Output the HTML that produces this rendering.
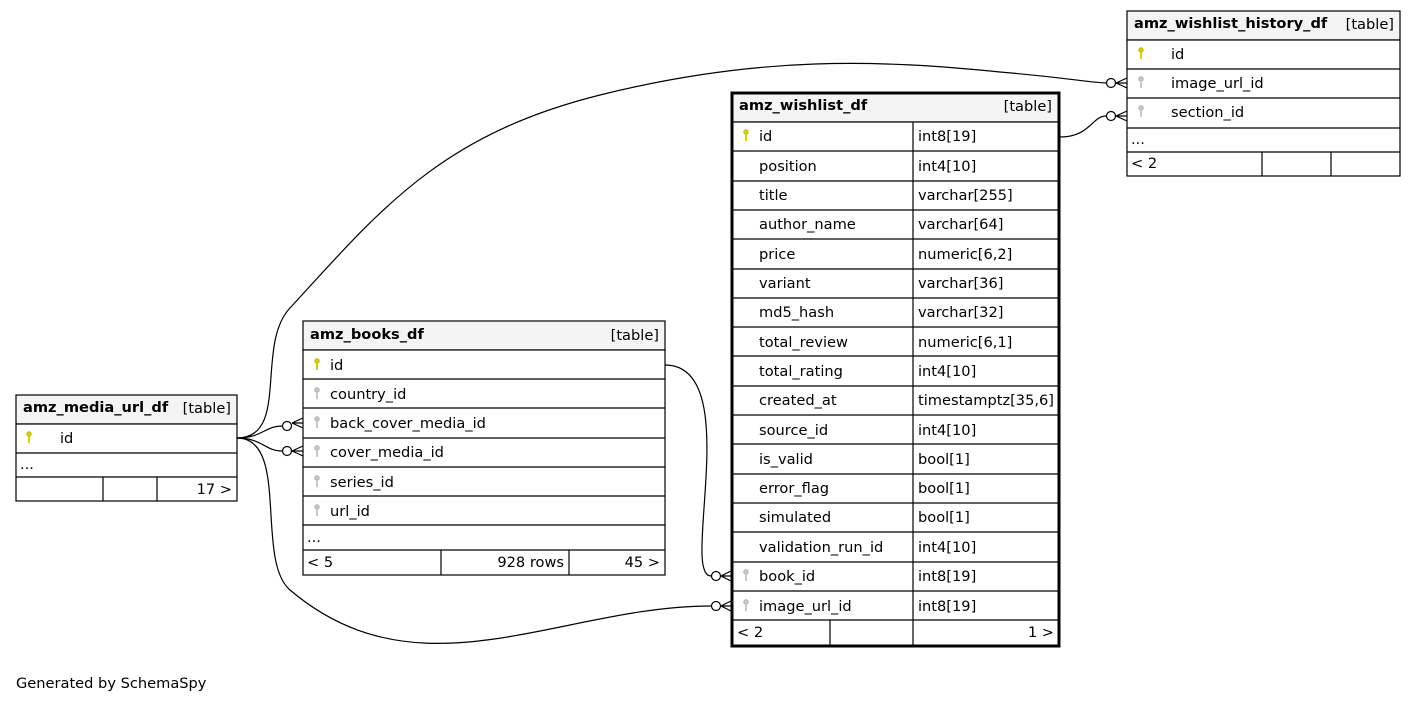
<!DOCTYPE html>
<html><head><meta charset="utf-8"><style>
html,body{margin:0;padding:0;background:#fff;}
svg{display:block;font-family:"DejaVu Sans","Liberation Sans",sans-serif;font-size:14.6px;}
.b{font-weight:bold;}
</style></head><body>
<svg width="1416" height="703" viewBox="0 0 1416 703" xmlns="http://www.w3.org/2000/svg">
<defs>
<g id="kp"><circle cx="0" cy="-3" r="2.3" fill="#d8d000" stroke="#b8b000" stroke-width="0.8"/><line x1="0" y1="-1" x2="0" y2="6" stroke="#d8d000" stroke-width="2"/></g>
<g id="kf"><circle cx="0" cy="-3" r="2.3" fill="#c8c8c8" stroke="#aaa" stroke-width="0.8"/><line x1="0" y1="-1" x2="0" y2="6" stroke="#c8c8c8" stroke-width="2"/></g>
</defs>
<g fill="none" stroke="#000" stroke-width="1.2">
<path d="M237,438 C262,438 265,426 282,426"/>
<path d="M237,438 C262,438 265,451 282,451"/>
<path d="M237,438 C290,438 255,560 290,590 C420,700 560,606 711,606"/>
<path d="M237,438 C290,438 255,345 290,308 C380,210 440,135 600,95 C760,55 880,60 1000,72 C1070,78 1085,82 1106,83"/>
<path d="M665,365 C745,365 680,576 711,576"/>
<path d="M1060,137 C1090,137 1092,116 1106,116"/>
<circle cx="287" cy="426" r="4.5" fill="#fff"/>
<circle cx="287" cy="451" r="4.5" fill="#fff"/>
<circle cx="716" cy="576" r="4.5" fill="#fff"/>
<circle cx="716" cy="606" r="4.5" fill="#fff"/>
<circle cx="1111" cy="83" r="4.5" fill="#fff"/>
<circle cx="1111" cy="116" r="4.5" fill="#fff"/>
<path d="M292,423 L303,418 M292,423 L303,423 M292,423 L303,428"/>
<path d="M292,451 L303,446 M292,451 L303,451 M292,451 L303,456"/>
<path d="M721,576 L731,571 M721,576 L731,576 M721,576 L731,581"/>
<path d="M721,606 L731,601 M721,606 L731,606 M721,606 L731,611"/>
<path d="M1116,83 L1127,78 M1116,83 L1127,83 M1116,83 L1127,88"/>
<path d="M1116,116 L1127,111 M1116,116 L1127,116 M1116,116 L1127,121"/>
</g>

<g stroke="#000" stroke-width="1.2">
<rect x="16" y="395" width="221" height="29" fill="#f4f4f4"/>
<rect x="16" y="424" width="221" height="77" fill="#fff"/>
<line x1="16" y1="453" x2="237" y2="453"/>
<line x1="16" y1="477" x2="237" y2="477"/>
<line x1="103" y1="477" x2="103" y2="501"/>
<line x1="157" y1="477" x2="157" y2="501"/>
</g>
<text x="23" y="412" class="b">amz_media_url_df</text>
<text x="231" y="413" text-anchor="end">[table]</text>
<use href="#kp" x="29" y="437"/>
<text x="60" y="443">id</text>
<text x="20" y="469">...</text>
<text x="232" y="494" text-anchor="end">17 &gt;</text>

<g stroke="#000" stroke-width="1.2">
<rect x="303" y="321" width="362" height="29" fill="#f4f4f4"/>
<rect x="303" y="350" width="362" height="225" fill="#fff"/>
<line x1="303" y1="379" x2="665" y2="379"/>
<line x1="303" y1="408" x2="665" y2="408"/>
<line x1="303" y1="438" x2="665" y2="438"/>
<line x1="303" y1="467" x2="665" y2="467"/>
<line x1="303" y1="496" x2="665" y2="496"/>
<line x1="303" y1="525" x2="665" y2="525"/>
<line x1="303" y1="550" x2="665" y2="550"/>
<line x1="441" y1="550" x2="441" y2="575"/>
<line x1="569" y1="550" x2="569" y2="575"/>
</g>
<text x="310" y="339" class="b">amz_books_df</text>
<text x="659" y="340" text-anchor="end">[table]</text>
<use href="#kp" x="317" y="364"/><text x="330" y="370">id</text>
<use href="#kf" x="317" y="393"/><text x="330" y="399">country_id</text>
<use href="#kf" x="317" y="422"/><text x="330" y="428">back_cover_media_id</text>
<use href="#kf" x="317" y="451"/><text x="330" y="457">cover_media_id</text>
<use href="#kf" x="317" y="481"/><text x="330" y="487">series_id</text>
<use href="#kf" x="317" y="510"/><text x="330" y="516">url_id</text>
<text x="307" y="542">...</text>
<text x="307" y="567">&lt; 5</text>
<text x="564" y="567" text-anchor="end">928 rows</text>
<text x="660" y="567" text-anchor="end">45 &gt;</text>

<g stroke="#000" stroke-width="1.2">
<rect x="732" y="93" width="327" height="29" fill="#f4f4f4"/>
<rect x="732" y="122" width="327" height="524" fill="#fff"/>
<line x1="732" y1="151" x2="1059" y2="151"/>
<line x1="732" y1="181" x2="1059" y2="181"/>
<line x1="732" y1="210" x2="1059" y2="210"/>
<line x1="732" y1="239" x2="1059" y2="239"/>
<line x1="732" y1="269" x2="1059" y2="269"/>
<line x1="732" y1="298" x2="1059" y2="298"/>
<line x1="732" y1="327" x2="1059" y2="327"/>
<line x1="732" y1="356" x2="1059" y2="356"/>
<line x1="732" y1="386" x2="1059" y2="386"/>
<line x1="732" y1="415" x2="1059" y2="415"/>
<line x1="732" y1="444" x2="1059" y2="444"/>
<line x1="732" y1="474" x2="1059" y2="474"/>
<line x1="732" y1="503" x2="1059" y2="503"/>
<line x1="732" y1="532" x2="1059" y2="532"/>
<line x1="732" y1="562" x2="1059" y2="562"/>
<line x1="732" y1="591" x2="1059" y2="591"/>
<line x1="732" y1="620" x2="1059" y2="620"/>
<line x1="913" y1="122" x2="913" y2="646"/>
<line x1="830" y1="620" x2="830" y2="646"/>
</g>
<rect x="732" y="93" width="327" height="553" fill="none" stroke="#000" stroke-width="3"/>
<text x="739" y="110" class="b">amz_wishlist_df</text>
<text x="1052" y="111" text-anchor="end">[table]</text>
<use href="#kp" x="746" y="135"/><text x="759" y="141">id</text><text x="918" y="141">int8[19]</text>
<text x="759" y="171">position</text><text x="918" y="171">int4[10]</text>
<text x="759" y="200">title</text><text x="918" y="200">varchar[255]</text>
<text x="759" y="229">author_name</text><text x="918" y="229">varchar[64]</text>
<text x="759" y="259">price</text><text x="918" y="259">numeric[6,2]</text>
<text x="759" y="288">variant</text><text x="918" y="288">varchar[36]</text>
<text x="759" y="317">md5_hash</text><text x="918" y="317">varchar[32]</text>
<text x="759" y="347">total_review</text><text x="918" y="347">numeric[6,1]</text>
<text x="759" y="376">total_rating</text><text x="918" y="376">int4[10]</text>
<text x="759" y="405">created_at</text><text x="918" y="405">timestamptz[35,6]</text>
<text x="759" y="435">source_id</text><text x="918" y="435">int4[10]</text>
<text x="759" y="464">is_valid</text><text x="918" y="464">bool[1]</text>
<text x="759" y="493">error_flag</text><text x="918" y="493">bool[1]</text>
<text x="759" y="522">simulated</text><text x="918" y="522">bool[1]</text>
<text x="759" y="552">validation_run_id</text><text x="918" y="552">int4[10]</text>
<use href="#kf" x="746" y="575"/><text x="759" y="581">book_id</text><text x="918" y="581">int8[19]</text>
<use href="#kf" x="746" y="605"/><text x="759" y="611">image_url_id</text><text x="918" y="611">int8[19]</text>
<text x="737" y="637">&lt; 2</text>
<text x="1054" y="637" text-anchor="end">1 &gt;</text>

<g stroke="#000" stroke-width="1.2">
<rect x="1127" y="11" width="273" height="29" fill="#f4f4f4"/>
<rect x="1127" y="40" width="273" height="136" fill="#fff"/>
<line x1="1127" y1="69" x2="1400" y2="69"/>
<line x1="1127" y1="98" x2="1400" y2="98"/>
<line x1="1127" y1="128" x2="1400" y2="128"/>
<line x1="1127" y1="152" x2="1400" y2="152"/>
<line x1="1262" y1="152" x2="1262" y2="176"/>
<line x1="1331" y1="152" x2="1331" y2="176"/>
</g>
<text x="1134" y="28" class="b">amz_wishlist_history_df</text>
<text x="1394" y="29" text-anchor="end">[table]</text>
<use href="#kp" x="1141" y="53"/><text x="1171" y="59">id</text>
<use href="#kf" x="1141" y="82"/><text x="1171" y="88">image_url_id</text>
<use href="#kf" x="1141" y="111"/><text x="1171" y="117">section_id</text>
<text x="1131" y="144">...</text>
<text x="1131" y="168">&lt; 2</text>

<text x="16" y="688">Generated by SchemaSpy</text>
</svg>
</body></html>
